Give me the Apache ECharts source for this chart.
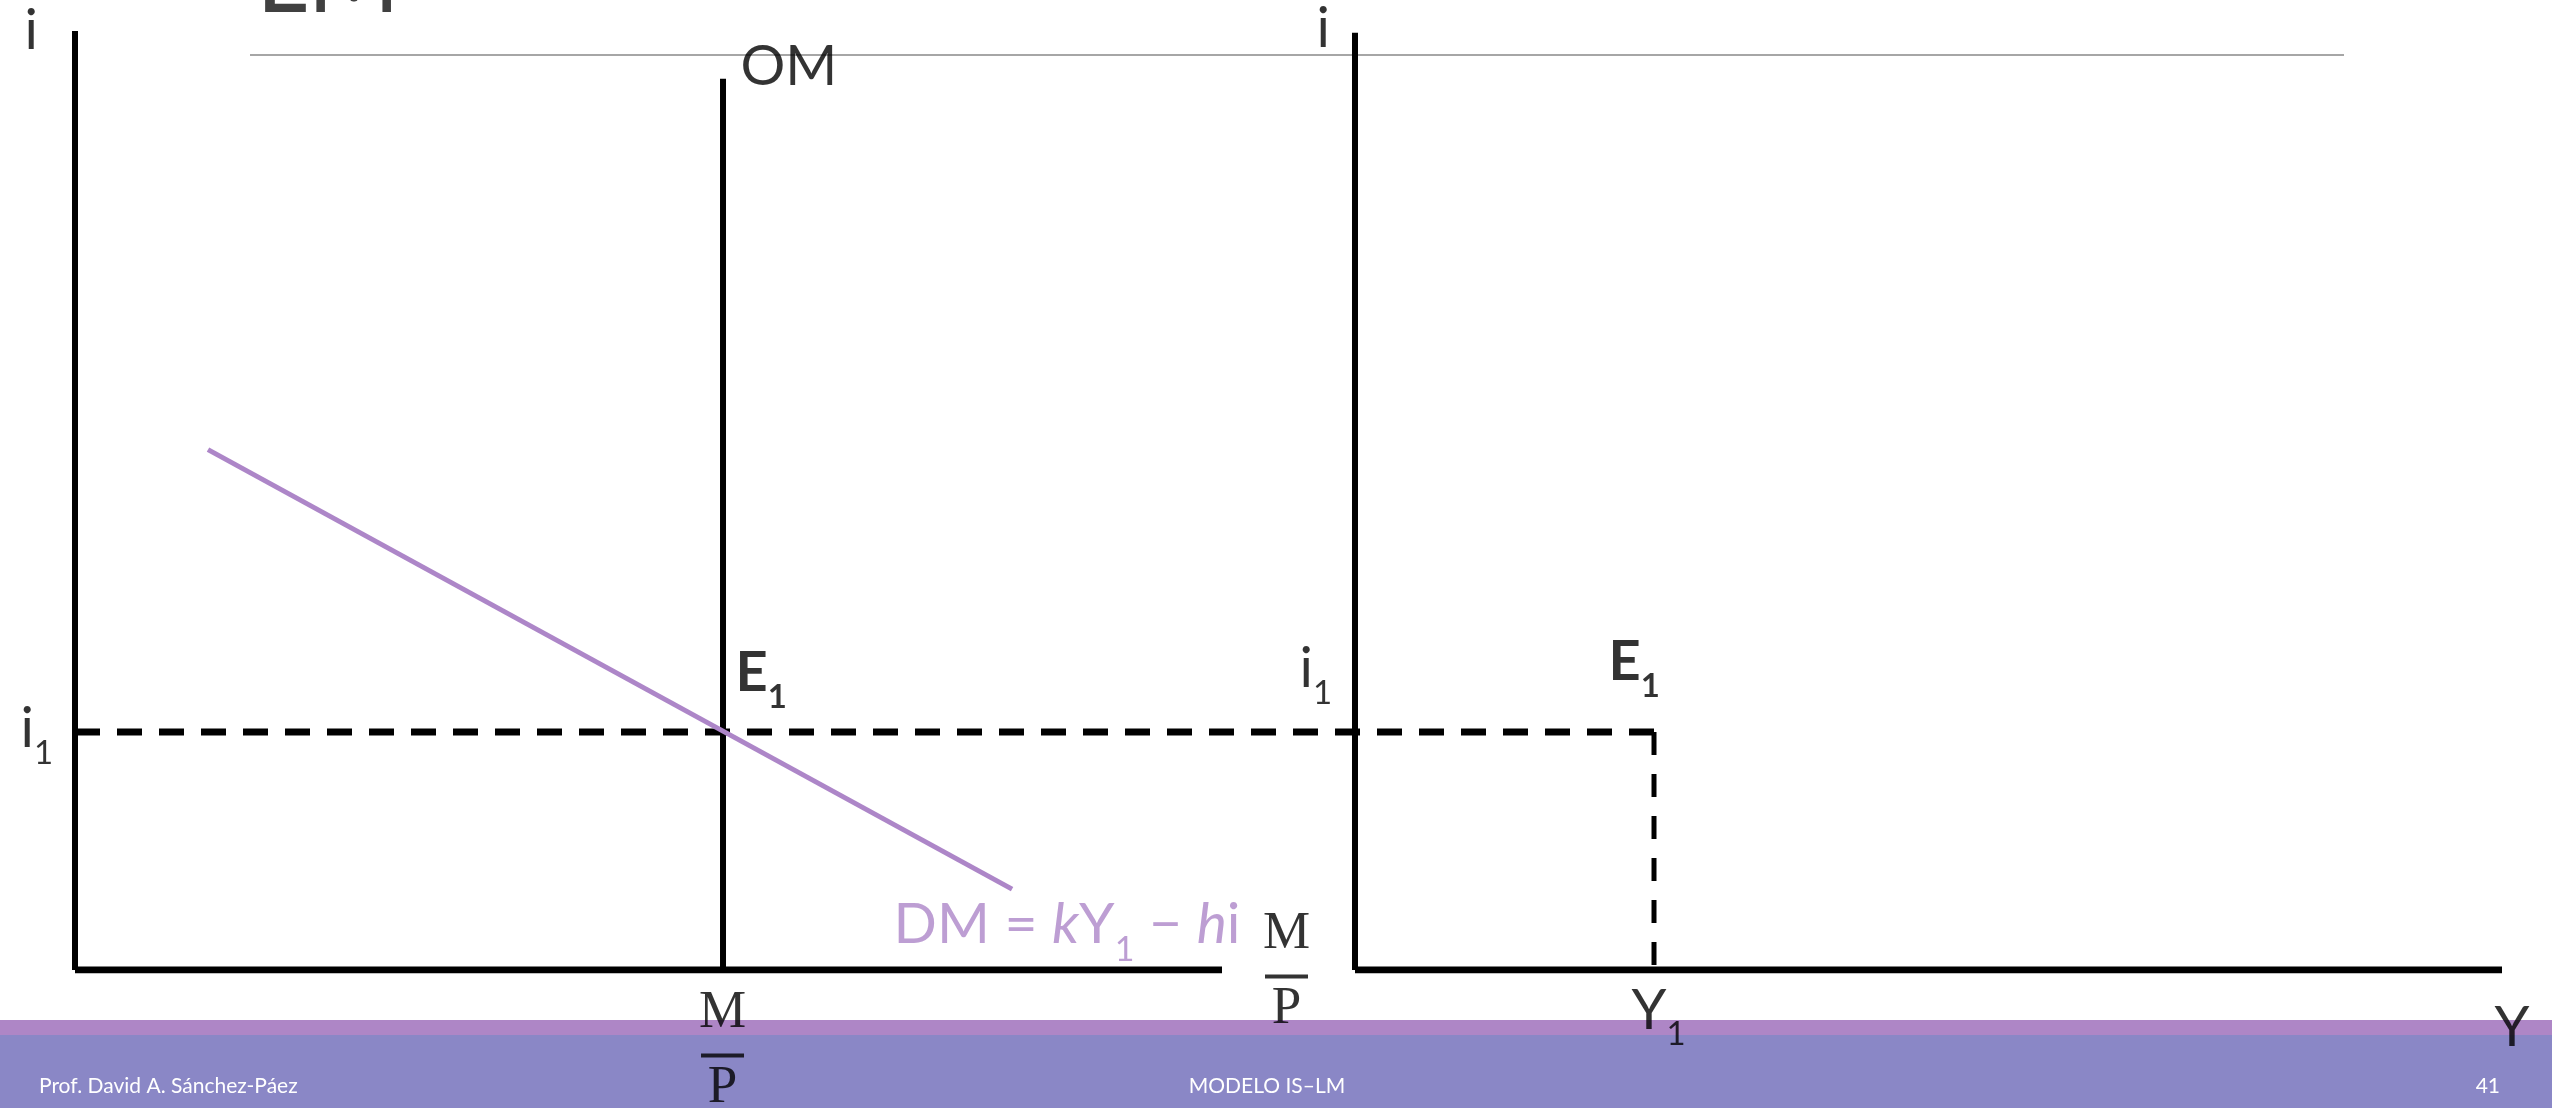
<!DOCTYPE html>
<html>
<head>
<meta charset="utf-8">
<script src="https://cdn.jsdelivr.net/npm/echarts@6/dist/echarts.min.js"></script>
<style>
html, body { margin: 0; padding: 0; background: #fff; }
#main { width: 2552px; height: 1108px; }
</style>
</head>
<body>
<div id="main"></div>
<script>
// axis units run 0-100 on both directions, two panels share one grid
var i1 = 25.3;          // equilibrium interest rate
var Y1 = 65.06;         // equilibrium income (right panel)
var realMoney = 26.7;   // M/P, money supply (OM)

var leftXAxis  = [[0, 0], [47.26, 0]];
var leftYAxis  = [[0, 0], [0, 99.8]];
var rightXAxis = [[52.74, 0], [100, 0]];
var rightYAxis = [[52.74, 0], [52.74, 99.6]];
var omLine     = [[realMoney, 0], [realMoney, 94.7]];
var dmLine     = [[5.48, 55.3], [38.61, 8.6]];
var i1Guide    = [[0, i1], [Y1, i1]];
var y1Guide    = [[Y1, i1], [Y1, 0]];

var purple = '#AD86C8';
var sans = 'Lato';
var serif = 'Liberation Serif';

var rich = {
    m:  { fontFamily: sans, fontSize: 56, lineHeight: 56, verticalAlign: 'top', color: '#000' },
    s:  { fontFamily: sans, fontSize: 33, lineHeight: 33, padding: [35, 0, 0, 0], verticalAlign: 'top', color: '#000' },
    b:  { fontFamily: sans, fontSize: 56, lineHeight: 56, fontWeight: 'bold', verticalAlign: 'top', color: '#000' },
    bs: { fontFamily: sans, fontSize: 33, lineHeight: 33, fontWeight: 'bold', padding: [35, 0, 0, 0], verticalAlign: 'top', color: '#000' },
    d:  { fontFamily: sans, fontSize: 57, lineHeight: 57, verticalAlign: 'top', color: purple },
    di: { fontFamily: sans, fontSize: 57, lineHeight: 57, fontStyle: 'italic', verticalAlign: 'top', color: purple },
    ds: { fontFamily: sans, fontSize: 34, lineHeight: 34, padding: [36, 0, 0, 0], verticalAlign: 'top', color: purple },
    fm: { fontFamily: serif, fontSize: 53, lineHeight: 80, color: '#000' },
    bar:{ width: 43, height: 4, lineHeight: 4, fontSize: 4, backgroundColor: '#000' },
    fp: { fontFamily: serif, fontSize: 53, lineHeight: 62, color: '#000' }
};

function lab(pt, fmt, dx, dy, align) {
    return {
        value: pt,
        label: {
            show: true, position: [dx, dy], align: align || 'left', verticalAlign: 'top',
            formatter: fmt, rich: rich
        }
    };
}

function seg(data, color, width, type) {
    return {
        type: 'line', data: data, symbol: 'none', silent: true, animation: false,
        lineStyle: { color: color, width: width, type: type || 'solid', cap: 'butt' }
    };
}

var labels = [
    lab(leftYAxis[1], '{m|i}', -50, -27),
    lab(rightYAxis[1], '{m|i}', -38, -31),
    lab([0, i1], '{m|i}{s|1}', -54, -30),
    lab([rightYAxis[0][0], i1], '{m|i}{s|1}', -55, -90),
    lab([realMoney, i1], '{b|E}{bs|1}', 13, -86),
    lab([Y1, i1], '{b|E}{bs|1}', -45, -97),
    lab(omLine[1], '{m|OM}', 18, -39),
    lab(dmLine[1], '{d|DM = }{di|k}{d|Y}{ds|1}{d| \u2212 }{di|h}{d|i}', -118, 8),
    lab([realMoney, 0], '{fm|M}\n{bar| }\n{fp|P}', 0, 4, 'center'),
    lab(leftXAxis[1], '{fm|M}\n{bar| }\n{fp|P}', 65, -75, 'center'),
    lab([Y1, 0], '{m|Y}{s|1}', -22, 13),
    lab(rightXAxis[1], '{m|Y}', -7, 30)
];

var myChart = echarts.init(document.getElementById('main'));
var option = {
    backgroundColor: '#fff',
    animation: false,
    grid: { left: 75, right: 50, top: 29, bottom: 138 },
    xAxis: { type: 'value', min: 0, max: 100, show: false },
    yAxis: { type: 'value', min: 0, max: 100, show: false },
    graphic: [
        { type: 'rect', z: 0, shape: { x: 0, y: 1020, width: 2552, height: 15 }, style: { fill: '#AE86C6' } },
        { type: 'rect', z: 0, shape: { x: 0, y: 1035, width: 2552, height: 73 }, style: { fill: '#8A87C6' } },
        { type: 'text', z: 1, style: { x: 39, y: 1086, text: 'Prof. David A. S\u00e1nchez-P\u00e1ez', font: '21px Lato', fill: '#fff', verticalAlign: 'middle' } },
        { type: 'text', z: 1, style: { x: 1267, y: 1086, text: 'MODELO IS\u2013LM', font: '21px Lato', fill: '#fff', align: 'center', verticalAlign: 'middle' } },
        { type: 'text', z: 1, style: { x: 2500, y: 1086, text: '41', font: '21px Lato', fill: '#fff', align: 'right', verticalAlign: 'middle' } },
        { type: 'line', z: 1, shape: { x1: 250, y1: 55, x2: 2344, y2: 55 }, style: { stroke: '#A6A6A6', lineWidth: 2 } },
        { type: 'text', z: 1, style: { x: 256, y: -20, text: 'LM', font: '100px Lato', fill: '#404040', verticalAlign: 'middle' } }
    ],
    series: [
        seg(i1Guide, '#000', 7, [25, 17]),
        seg(y1Guide, '#000', 5, [23, 19]),
        seg(leftXAxis, '#000', 7),
        seg(rightXAxis, '#000', 7),
        seg(leftYAxis, '#000', 6),
        seg(rightYAxis, '#000', 6),
        seg(omLine, '#000', 6),
        seg(dmLine, purple, 5),
        {
            type: 'scatter', data: labels, symbolSize: 1, silent: true, animation: false,
            itemStyle: { color: 'rgba(0,0,0,0)' }, z: 5
        }
    ]
};
myChart.setOption(option);
</script>
</body>
</html>
